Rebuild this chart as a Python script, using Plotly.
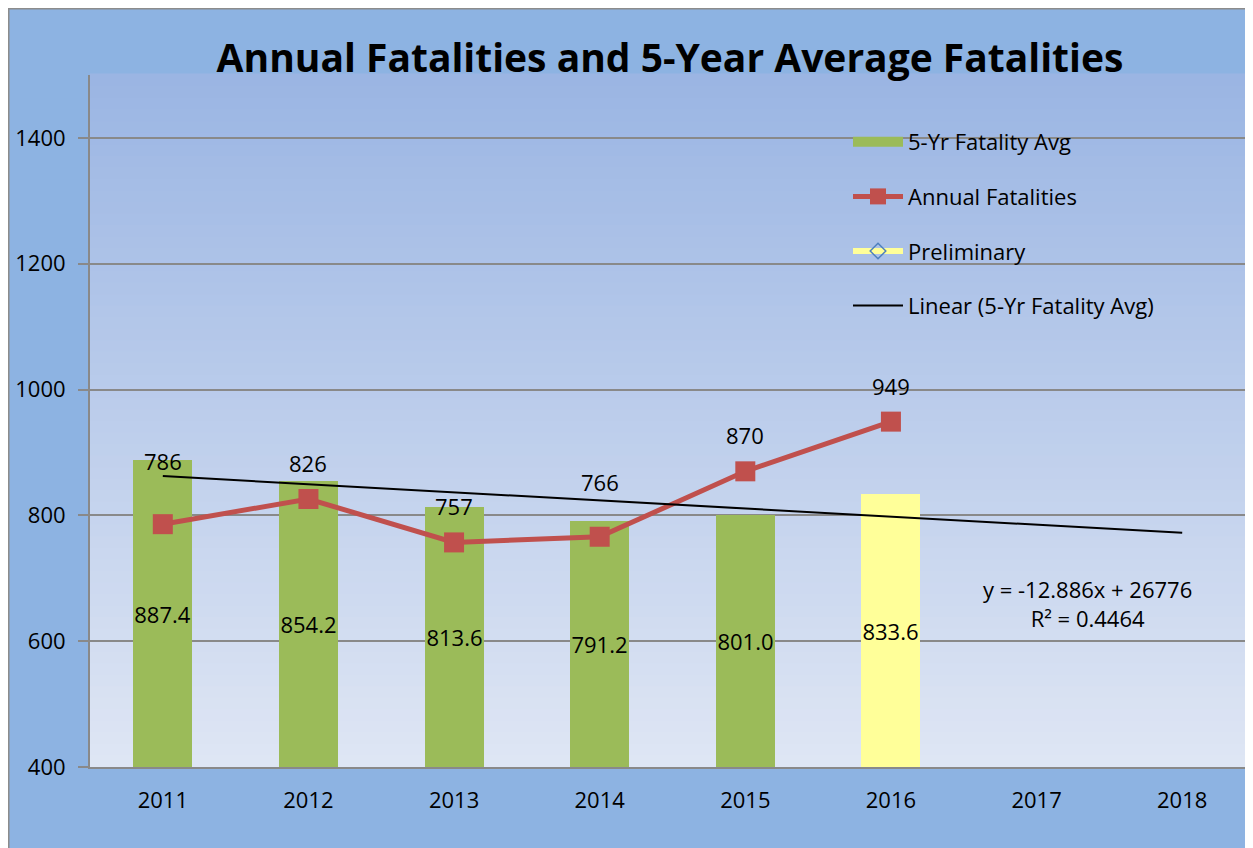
import numpy as np
import plotly.graph_objects as go

# ---- data ----
years = ["2011", "2012", "2013", "2014", "2015", "2016", "2017", "2018"]
avg_years = [2011, 2012, 2013, 2014, 2015, 2016]
avg_values = [887.4, 854.2, 813.6, 791.2, 801.0, 833.6]
avg_labels = ["887.4", "854.2", "813.6", "791.2", "801.0", "833.6"]
preliminary = [False, False, False, False, False, True]
annual_years = [2011, 2012, 2013, 2014, 2015, 2016]
annual_values = [786, 826, 757, 766, 870, 949]
trend_years = [2011, 2018]
y_ticks = [400, 600, 800, 1000, 1200, 1400]

FONT = "Open Sans"
FS = 22
GREEN = "#9BBB59"
YELLOW = "#FFFF99"
RED = "#C0504D"
GRID = "#898989"

year_index = {int(y): i for i, y in enumerate(years)}
ax = [year_index[y] for y in avg_years]
rx = [year_index[y] for y in annual_years]

# linear trendline fitted to the 5-yr averages
slope, intercept = np.polyfit(avg_years, avg_values, 1)
r2 = np.corrcoef(avg_years, avg_values)[0, 1] ** 2
tx = [year_index[y] for y in trend_years]
ty = [slope * y + intercept for y in trend_years]

fig = go.Figure()

fig.add_trace(go.Bar(
    x=ax, y=[v - 400 for v in avg_values], base=400,
    marker=dict(color=[YELLOW if p else GREEN for p in preliminary], line=dict(width=0)),
    width=0.405, text=avg_labels, textposition="inside", insidetextanchor="middle",
    constraintext="none", cliponaxis=False,
    textangle=0, textfont=dict(family=FONT, size=FS, color="black"),
    showlegend=False, hoverinfo="skip",
))

# legend proxies / series
fig.add_trace(go.Scatter(
    x=[None], y=[None], mode="lines", name="5-Yr Fatality Avg",
    line=dict(color=GREEN, width=15), legendgroup="a",
))
fig.add_trace(go.Scatter(
    x=rx, y=annual_values, mode="lines+markers", name="Annual Fatalities",
    line=dict(color=RED, width=5), marker=dict(symbol="square", size=20, color=RED),
    legendgroup="b",
))
fig.add_trace(go.Scatter(
    x=[None], y=[None], mode="lines+markers", name="Preliminary",
    line=dict(color=YELLOW, width=6),
    marker=dict(symbol="diamond-open", size=12, color="#4F81BD", line=dict(width=1.5)),
    legendgroup="c",
))
fig.add_trace(go.Scatter(
    x=tx, y=ty, mode="lines", name="Linear (5-Yr Fatality Avg)",
    line=dict(color="black", width=2), legendgroup="d", hoverinfo="skip",
))

# annual data labels (two were nudged in the original)
label_shift = [63, 36, 36, 55, 36, 36]
for xi, v, s in zip(rx, annual_values, label_shift):
    fig.add_annotation(x=xi, y=v, text=str(v), showarrow=False, yshift=s,
                       font=dict(family=FONT, size=FS, color="black"))

# trendline equation
fig.add_annotation(
    x=6.35, y=660, xref="x", yref="y", showarrow=False, align="center",
    text=f"y = {slope:.3f}x + {intercept:.0f}<br>R² = {r2:.4f}",
    font=dict(family=FONT, size=FS, color="black"),
)

# the page adds an 8px body margin; figure coordinates = screen - 8
W, H = 1253, 848
L, T, R, B = 82, 67, 6, 89
pw, ph = W - L - R, H - T - B
def px(x): return (x - L) / pw
def py(y): return (H - B - y) / ph

# gradient plot-area background
shapes = []
top = np.array([0x9A, 0xB5, 0xE3])
bot = np.array([0xDF, 0xE6, 0xF4])
n = 60
for i in range(n):
    t = (i + 0.5) / n
    c = bot + (top - bot) * t
    shapes.append(dict(type="rect", xref="paper", yref="paper", x0=0, x1=1,
                       y0=i / n, y1=(i + 1) / n + 0.002, layer="below",
                       line=dict(width=0),
                       fillcolor="rgb(%d,%d,%d)" % tuple(c.round().astype(int))))
# gray frame of the chart
shapes.append(dict(type="line", xref="paper", yref="paper", x0=px(0), x1=px(0),
                   y0=py(0), y1=py(H + 5), line=dict(color="#8C8C8C", width=3)))
shapes.append(dict(type="line", xref="paper", yref="paper", x0=px(0), x1=px(W + 5),
                   y0=py(0), y1=py(0), line=dict(color="#8C8C8C", width=3)))

fig.update_layout(
    width=W, height=H,
    margin=dict(l=L, r=R, t=T, b=B, pad=0),
    paper_bgcolor="#8DB3E2",
    plot_bgcolor="rgba(0,0,0,0)",
    shapes=shapes,
    title=dict(text="<b>Annual Fatalities and 5-Year Average Fatalities</b>",
               x=662 / W, xanchor="center", y=1 - 50 / H, yanchor="middle",
               font=dict(family=FONT, size=39, color="black")),
    font=dict(family=FONT, size=FS, color="black"),
    legend=dict(x=px(840), y=py(113), xanchor="left", yanchor="top",
                bgcolor="rgba(0,0,0,0)", tracegroupgap=23, itemwidth=50,
                font=dict(family=FONT, size=FS, color="black")),
    showlegend=True,
    bargap=0,
)
fig.update_xaxes(
    range=[-0.5, 7.5], tickmode="array", tickvals=list(range(len(years))), ticktext=years,
    showgrid=False, zeroline=False, showline=True, linecolor=GRID, linewidth=2,
    ticks="", ticklabelstandoff=13, tickfont=dict(family=FONT, size=FS, color="black"),
)
fig.update_yaxes(
    range=[400, 1500], tickvals=y_ticks, showgrid=True, gridcolor=GRID, gridwidth=2,
    zeroline=False, showline=True, linecolor=GRID, linewidth=2,
    ticks="outside", ticklen=10, tickcolor=GRID, tickwidth=2, ticklabelstandoff=8,
    tickfont=dict(family=FONT, size=FS, color="black"),
)

fig.write_html("out.html")
